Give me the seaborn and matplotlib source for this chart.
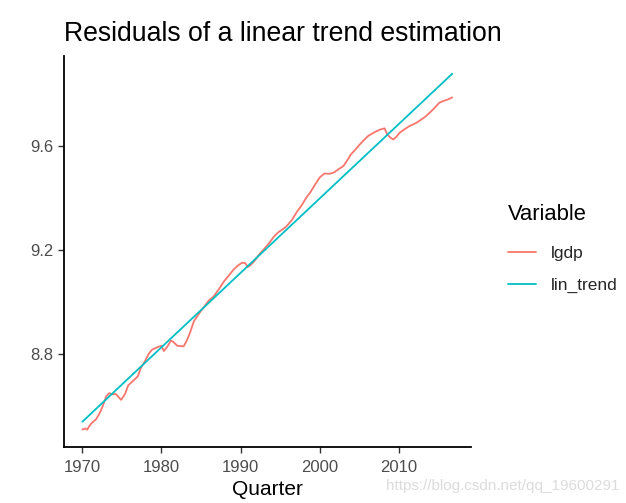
import matplotlib
matplotlib.use("Agg")
import matplotlib.pyplot as plt
import seaborn as sns
import pandas as pd

# lgdp (quarter, log gdp)
lgdp_quarter = [
    1970.0, 1970.4, 1970.6, 1970.9, 1971.1, 1971.75, 1972.25, 1972.6, 1973.0, 1973.4,
    1973.8, 1974.2, 1974.6, 1974.9, 1975.4, 1975.8, 1976.4, 1977.0, 1977.4, 1977.9,
    1978.4, 1978.8, 1979.5, 1980.0, 1980.3, 1980.7, 1981.2, 1981.5, 1982.0, 1982.8,
    1983.2, 1983.6, 1984.1, 1985.0, 1986.0, 1986.6, 1987.3, 1987.9, 1988.5, 1989.1,
    1989.7, 1990.2, 1990.6, 1990.9, 1991.3, 1991.8, 1992.3, 1992.9, 1993.6, 1994.2,
    1994.8, 1995.4, 1995.8, 1996.5, 1997.1, 1997.7, 1998.3, 1998.8, 1999.4, 2000.0,
    2000.6, 2001.2, 2001.8, 2002.4, 2003.0, 2003.5, 2003.9, 2004.5, 2005.0, 2005.6,
    2006.1, 2006.8, 2007.6, 2008.2, 2008.5, 2008.9, 2009.3, 2009.7, 2010.1, 2010.7,
    2011.3, 2012.2, 2012.8, 2013.4, 2014.0, 2014.5, 2015.1, 2015.6, 2016.2, 2016.75,
]
lgdp_values = [
    8.508, 8.512, 8.507, 8.522, 8.530, 8.548, 8.575, 8.600, 8.635, 8.648,
    8.643, 8.645, 8.632, 8.622, 8.645, 8.678, 8.695, 8.712, 8.745, 8.770,
    8.800, 8.815, 8.825, 8.830, 8.810, 8.825, 8.850, 8.845, 8.830, 8.828,
    8.850, 8.880, 8.925, 8.965, 9.005, 9.020, 9.050, 9.078, 9.100, 9.123,
    9.140, 9.150, 9.148, 9.133, 9.142, 9.158, 9.180, 9.200, 9.225, 9.250,
    9.268, 9.280, 9.290, 9.315, 9.345, 9.370, 9.400, 9.420, 9.450, 9.478,
    9.493, 9.492, 9.497, 9.510, 9.522, 9.545, 9.565, 9.585, 9.603, 9.622,
    9.637, 9.650, 9.662, 9.667, 9.645, 9.632, 9.624, 9.635, 9.650, 9.663,
    9.675, 9.688, 9.700, 9.713, 9.730, 9.745, 9.765, 9.772, 9.778, 9.786,
]

# fitted linear trend: end points
trend_quarter = [1970.0, 2016.75]
trend_values = [8.538, 9.877]

x_ticks = [1970, 1980, 1990, 2000, 2010]
y_ticks = [8.8, 9.2, 9.6]

df = pd.concat([
    pd.DataFrame({"Quarter": lgdp_quarter, "value": lgdp_values, "Variable": "lgdp"}),
    pd.DataFrame({"Quarter": trend_quarter, "value": trend_values, "Variable": "lin_trend"}),
])

sns.set_style("ticks")
plt.rcParams["font.family"] = ["Liberation Sans", "DejaVu Sans"]

fig = plt.figure(figsize=(6.26, 5.03), dpi=100)
ax = fig.add_axes([0.102, 0.111, 0.650, 0.778])

sns.lineplot(data=df, x="Quarter", y="value", hue="Variable",
             palette={"lgdp": "#F8766D", "lin_trend": "#00BFC4"},
             linewidth=1.3, ax=ax, legend=False)

ax.set_xlim(1967.66, 2019.09)
ax.set_ylim(8.44, 9.946)
ax.set_xticks(x_ticks)
ax.set_yticks(y_ticks)
ax.set_yticklabels([f"{v:.1f}" for v in y_ticks])
ax.tick_params(labelsize=12, labelcolor="#4D4D4D", color="#333333", length=4, width=1)
ax.tick_params(axis="x", pad=5)
sns.despine(ax=ax)
for s in ["left", "bottom"]:
    ax.spines[s].set_linewidth(1.3)
    ax.spines[s].set_color("black")

ax.set_xlabel("Quarter", fontsize=15, labelpad=4, color="black")
ax.set_ylabel("")
ax.set_title("Residuals of a linear trend estimation", fontsize=19.2, loc="left",
             pad=11, color="black")

handles = [plt.Line2D([], [], color="#F8766D", lw=1.3),
           plt.Line2D([], [], color="#00BFC4", lw=1.3)]
leg = fig.legend(handles, ["lgdp", "lin_trend"], title="Variable",
                 loc="upper left", bbox_to_anchor=(0.787, 0.626),
                 frameon=False, fontsize=12.5, title_fontsize=15.8,
                 handlelength=1.6, handletextpad=0.85, labelspacing=1.0,
                 alignment="left")
leg.get_title().set_color("black")
leg._legend_box.sep = 15

fig.text(0.99, 0.02, "https://blog.csdn.net/qq_19600291", ha="right", va="bottom",
         fontsize=11, color="#dcdcdc")

fig.savefig("out.png", dpi=100)
